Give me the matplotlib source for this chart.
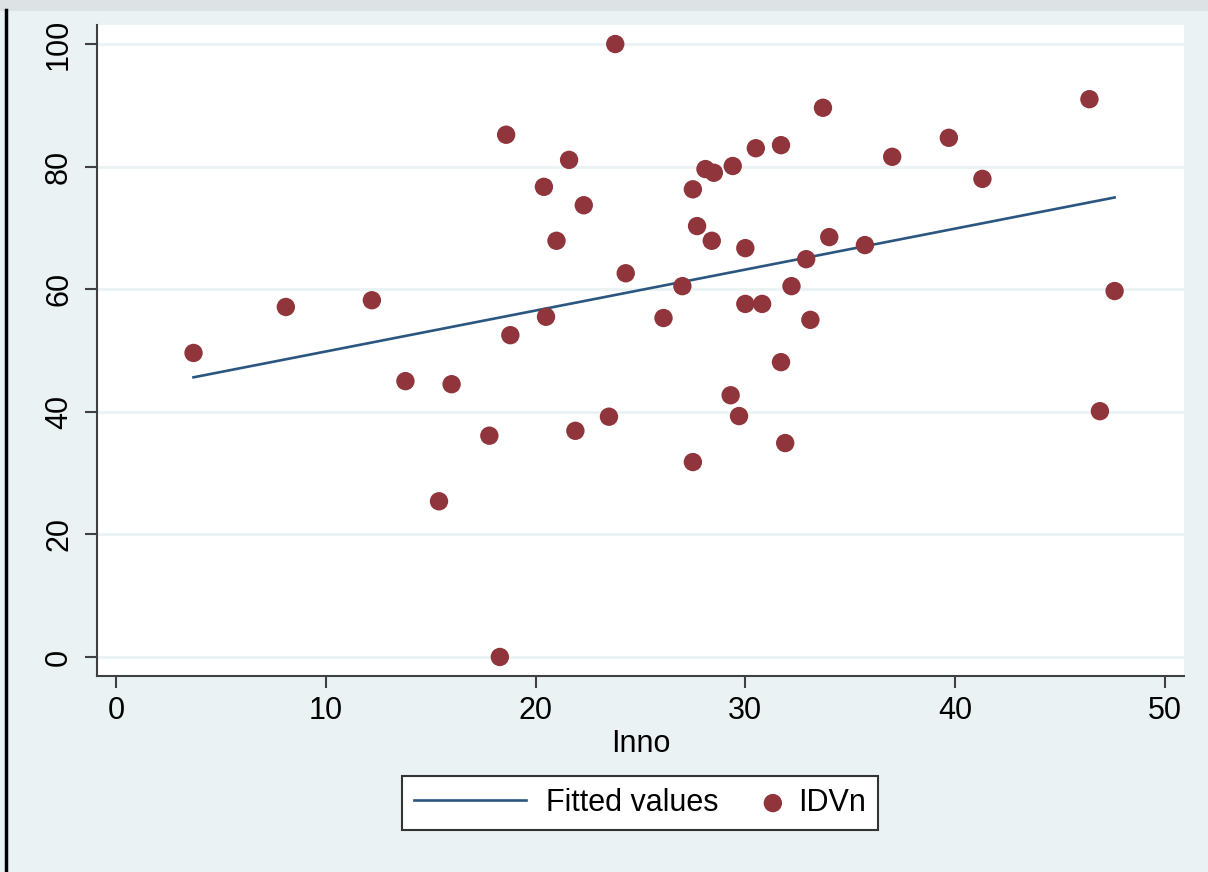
import numpy as np
import matplotlib
matplotlib.use("Agg")
import matplotlib.pyplot as plt
from matplotlib.lines import Line2D
from matplotlib.patches import Rectangle
from matplotlib.legend_handler import HandlerPathCollection

plt.rcParams['font.family'] = ['Liberation Sans', 'DejaVu Sans']

# data
inno = [3.7, 8.1, 12.2, 13.8, 16.0, 15.4, 17.8, 18.3, 18.6, 18.8,
        20.4, 20.5, 21.0, 21.6, 21.9, 22.3, 23.5, 23.8, 24.3, 27.0,
        26.1, 27.5, 27.5, 27.7, 28.1, 28.5, 28.4, 29.3, 29.4, 29.7,
        30.0, 30.0, 30.5, 30.8, 31.7, 31.7, 31.9, 32.2, 32.9, 33.1,
        33.7, 34.0, 35.7, 37.0, 39.7, 41.3, 46.4, 46.9, 47.6]
idvn = [49.6, 57.1, 58.2, 45.0, 44.5, 25.4, 36.1, 0.0, 85.2, 52.5,
        76.7, 55.5, 67.9, 81.1, 36.9, 73.7, 39.2, 100.0, 62.6, 60.5,
        55.3, 31.8, 76.3, 70.3, 79.6, 79.0, 67.9, 42.7, 80.1, 39.3,
        66.7, 57.6, 83.0, 57.6, 83.5, 48.1, 34.9, 60.5, 64.9, 55.0,
        89.6, 68.5, 67.2, 81.6, 84.7, 78.0, 91.0, 40.1, 59.7]
x_ticks = [0, 10, 20, 30, 40, 50]
y_ticks = [0, 20, 40, 60, 80, 100]

x = np.array(inno)
y = np.array(idvn)
slope, intercept = np.polyfit(x, y, 1)
xs = np.array([x.min(), x.max()])
fitted = intercept + slope * xs


# marker sits at the right end of its legend slot, like Stata
class RightMarker(HandlerPathCollection):
    def get_xdata(self, legend, xdescent, ydescent, width, height, fontsize):
        xd = [width - xdescent - 4]
        return xd, xd


bg = '#eaf2f3'
fig = plt.figure(figsize=(12.08, 8.72), dpi=100, facecolor=bg)
ax = fig.add_axes([0.0803, 0.2248, 0.8997, 0.7465])
ax.set_facecolor('white')

line, = ax.plot(xs, fitted, color='#2a5680', lw=1.9, label='Fitted values', zorder=2)
pts = ax.scatter(x, y, s=175, color='#90353b', edgecolors='none', label='IDVn', zorder=3)

ax.set_xlim(-0.9, 50.9)
ax.set_ylim(-3.1, 103.1)
ax.set_xticks(x_ticks)
ax.set_yticks(y_ticks)
ax.set_yticklabels([str(t) for t in y_ticks], rotation=90, va='center')
ax.tick_params(labelsize=22, length=8.5, width=1.5, color='#404040', pad=6)
ax.tick_params(axis='y', pad=8)
ax.grid(axis='y', color=bg, lw=2, zorder=0)
ax.set_axisbelow(True)
for side in ['top', 'right']:
    ax.spines[side].set_visible(False)
for side in ['left', 'bottom']:
    ax.spines[side].set_color('#404040')
    ax.spines[side].set_linewidth(1.5)
ax.set_xlabel('Inno', fontsize=22, labelpad=2)

leg = fig.legend([line, pts], ['Fitted values', 'IDVn'], loc='center',
                 bbox_to_anchor=(0.530, 0.079), ncol=2, fontsize=22,
                 frameon=True, fancybox=False, framealpha=1, edgecolor='#333333',
                 handlelength=3.66, handletextpad=0.65, columnspacing=-1.7,
                 borderpad=0.4, borderaxespad=0,
                 handler_map={pts: RightMarker(numpoints=1)})
leg.get_frame().set_linewidth(1.5)

# screenshot edges
fig.add_artist(Rectangle((0, 0.987), 1, 0.013, transform=fig.transFigure,
                         color='#dde3e4', lw=0))
fig.add_artist(Line2D([0.005, 0.005], [0, 0.988], transform=fig.transFigure,
                      color='black', lw=2.5))

fig.savefig('out.png', dpi=100, facecolor=bg)
